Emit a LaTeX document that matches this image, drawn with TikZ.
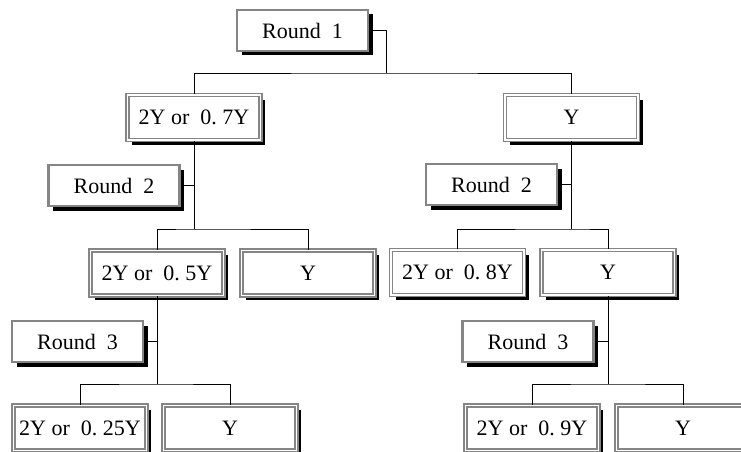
\documentclass[tikz,border=0pt]{standalone}
\usepackage{fontspec}
\setmainfont{Liberation Serif}
\usetikzlibrary{shadows}
\definecolor{boxgray}{HTML}{858585}
\tikzset{
  x=1pt, y=-1pt,
  shadowed/.style={drop shadow={shadow xshift=4.5pt, shadow yshift=-4.5pt, fill=black, opacity=1}},
  roundbox/.style={shadowed, draw=boxgray, line width=2.2pt, fill=white,
    minimum width=131pt, minimum height=41pt, inner sep=0pt,
    font=\fontsize{22}{26}\selectfont},
  resbox/.style={shadowed, draw=boxgray, double=white, double distance=1.6pt, line width=1.3pt, fill=white,
    minimum width=133pt, minimum height=45pt, inner sep=0pt,
    font=\fontsize{22}{26}\selectfont},
  link/.style={draw=black, line width=0.9pt}
}
\begin{document}
\begin{tikzpicture}
\useasboundingbox (0,0) rectangle (741,452);
% level 0
\node[roundbox] (rd1) at (302.5,30.5) {Round~~1};
\coordinate (c1) at (386,73);
% level 1
\node[resbox] (l1) at (194,117.5) {2Y or~~0.~7Y};
\node[resbox] (r1) at (571.5,117.5) {Y};
\node[roundbox] (rd2l) at (114,185.5) {Round~~2};
\node[roundbox] (rd2r) at (491.5,184.5) {Round~~2};
\coordinate (j2l) at (194,229);
\coordinate (j2r) at (571.5,229);
% level 2
\node[resbox] (l2a) at (157,273) {2Y or~~0.~5Y};
\node[resbox] (l2b) at (308,273) {Y};
\node[resbox] (r2a) at (457.5,272.5) {2Y or~~0.~8Y};
\node[resbox] (r2b) at (608,272.5) {Y};
\node[roundbox] (rd3l) at (77.5,341.5) {Round~~3};
\node[roundbox] (rd3r) at (528,341.5) {Round~~3};
\coordinate (j3l) at (157,384);
\coordinate (j3r) at (608,384);
% level 3
\node[resbox] (l3a) at (80,428) {2Y or~~0.~25Y};
\node[resbox] (l3b) at (230,428) {Y};
\node[resbox] (r3a) at (532,428) {2Y or~~0.~9Y};
\node[resbox] (r3b) at (683,428) {Y};
% connectors
\draw[link] (rd1.east) -| (c1);
\draw[link] (l1.north) |- (c1) -| (r1.north);
\draw[link] (l1.south) -- (j2l);
\draw[link] (r1.south) -- (j2r);
\draw[link] (rd2l.east) -- (rd2l.east -| l1.south);
\draw[link] (rd2r.east) -- (rd2r.east -| r1.south);
\draw[link] (l2a.north) |- (j2l) -| (l2b.north);
\draw[link] (r2a.north) |- (j2r) -| (r2b.north);
\draw[link] (l2a.south) -- (j3l);
\draw[link] (r2b.south) -- (j3r);
\draw[link] (rd3l.east) -- (rd3l.east -| l2a.south);
\draw[link] (rd3r.east) -- (rd3r.east -| r2b.south);
\draw[link] (l3a.north) |- (j3l) -| (l3b.north);
\draw[link] (r3a.north) |- (j3r) -| (r3b.north);
\end{tikzpicture}
\end{document}
